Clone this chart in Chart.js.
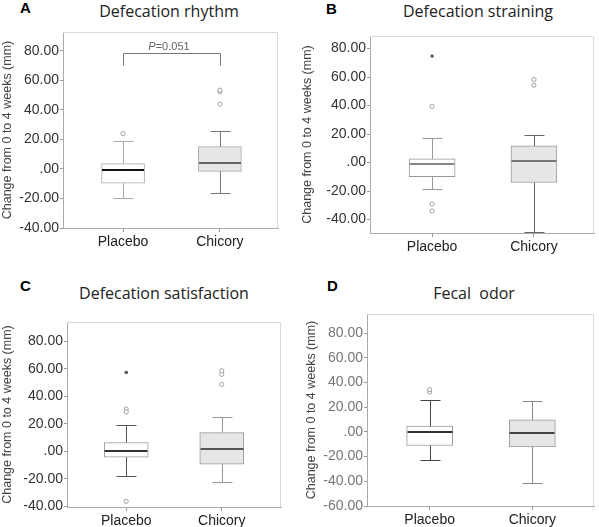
<!DOCTYPE html>
<html>
<head>
<meta charset="utf-8">
<script src="https://cdn.jsdelivr.net/npm/chart.js@4.4.1/dist/chart.umd.min.js"></script>
<style>
  body { margin: 0; background: #fff; }
  #fig { position: relative; width: 599px; height: 527px; overflow: hidden; background: #fff; }
  #fig canvas { position: absolute; }
  .ttl { position: absolute; font-family: "Open Sans", sans-serif; font-size: 16px; color: #222;
         white-space: pre; transform: translateX(-50%); line-height: 1; }
  .lbl { position: absolute; font-family: "Liberation Sans", Arial, sans-serif; font-weight: bold;
         font-size: 15px; color: #000; line-height: 1; }
</style>
</head>
<body>
<div id="fig">
  <div class="lbl" style="left:20px;top:0px">A</div>
  <div class="ttl" style="left:169px;top:3px">Defecation rhythm</div>
  <div class="lbl" style="left:326px;top:1px">B</div>
  <div class="ttl" style="left:478px;top:3px">Defecation straining</div>
  <div class="lbl" style="left:20px;top:278px">C</div>
  <div class="ttl" style="left:164px;top:285px">Defecation satisfaction</div>
  <div class="lbl" style="left:327px;top:278px">D</div>
  <div class="ttl" style="left:474px;top:285px">Fecal  odor</div>

  <canvas id="chartA" width="299" height="262" style="left:0;top:0"></canvas>
  <canvas id="chartB" width="299" height="262" style="left:300px;top:0"></canvas>
  <canvas id="chartC" width="299" height="262" style="left:0;top:265px"></canvas>
  <canvas id="chartD" width="299" height="262" style="left:300px;top:265px"></canvas>
</div>

<script>
//====================================
// DATOS
//====================================
const groups = ["Placebo", "Chicory"];
const yTitle = "Change from 0 to 4 weeks (mm)";
const yTicks = [-40, -20, 0, 20, 40, 60, 80];
const yTicksOdor = [-60, -40, -20, 0, 20, 40, 60, 80];

// A: Defecation rhythm
const rhythmLow = [-20, -16];
const rhythmQ1 = [-9.7, -1.6];
const rhythmMedian = [-1, 4.3];
const rhythmQ3 = [3.6, 15.1];
const rhythmHigh = [19, 26];
const rhythmOutliers = [[24], [43.9, 52.3, 53.4]];
const rhythmExtremes = [[], []];
const rhythmBracket = [78.6, 70];   // linea superior, extremo de las patas
const rhythmPValue = "0.051";

// B: Defecation straining
const strainLow = [-18.7, -49];
const strainQ1 = [-9.8, -14];
const strainMedian = [-0.8, 1.1];
const strainQ3 = [2.6, 11.7];
const strainHigh = [17, 19];
const strainOutliers = [[39.3, -29, -34], [54.3, 58.3]];
const strainExtremes = [[74.7], []];

// C: Defecation satisfaction
const satisLow = [-18.1, -22.5];
const satisQ1 = [-4.4, -9.4];
const satisMedian = [0, 1.9];
const satisQ3 = [6.3, 13.5];
const satisHigh = [19.1, 25.2];
const satisOutliers = [[30.7, 28.6, -36.5], [48.6, 55.9, 58.5]];
const satisExtremes = [[57.3], []];

// D: Fecal odor
const odorLow = [-22.9, -41.2];
const odorQ1 = [-11, -12.1];
const odorMedian = [0, -0.8];
const odorQ3 = [4.6, 9.7];
const odorHigh = [25.9, 25];
const odorOutliers = [[32.3, 34.2], []];
const odorExtremes = [[], []];

//====================================
// PLUGINS
//====================================

// Bigotes, topes y mediana de cada caja
const boxPartsPlugin = {
  id: "boxParts",
  afterDatasetsDraw(chart, args, opts) {
    const { ctx, scales: { x, y } } = chart;
    const line = (x1, y1, x2, y2) => {
      ctx.beginPath();
      ctx.moveTo(x1, y1);
      ctx.lineTo(x2, y2);
      ctx.stroke();
    };
    ctx.save();
    opts.low.forEach((lo, i) => {
      const cx = Math.round(x.getPixelForValue(i + 1)) + 0.5;
      const cap = opts.capWidth / 2;
      const yLo = Math.round(y.getPixelForValue(lo)) + 0.5;
      const yHi = Math.round(y.getPixelForValue(opts.high[i])) + 0.5;
      const yQ1 = y.getPixelForValue(opts.q1[i]);
      const yQ3 = y.getPixelForValue(opts.q3[i]);
      ctx.strokeStyle = opts.whiskerColor[i];
      ctx.lineWidth = 1;
      line(cx, yQ3, cx, yHi);
      line(cx - cap, yHi, cx + cap, yHi);
      line(cx, yQ1, cx, yLo);
      line(cx - cap, yLo, cx + cap, yLo);

      const half = opts.boxWidth / 2;
      const yMed = Math.round(y.getPixelForValue(opts.median[i]));
      ctx.strokeStyle = opts.medianColor[i];
      ctx.lineWidth = 2;
      line(cx - half, yMed, cx + half - 1, yMed);
    });
    ctx.restore();
  }
};

// Marco gris claro alrededor del area del grafico
const framePlugin = {
  id: "frame",
  beforeDatasetsDraw(chart) {
    const { ctx, chartArea: a } = chart;
    ctx.save();
    ctx.strokeStyle = "#d9d9d9";
    ctx.lineWidth = 1;
    ctx.beginPath();
    ctx.moveTo(a.left, a.top + 0.5);
    ctx.lineTo(a.right - 0.5, a.top + 0.5);
    ctx.lineTo(a.right - 0.5, a.bottom);
    ctx.stroke();
    ctx.restore();
  }
};

// Corchete con el valor P (solo panel A)
const bracketPlugin = {
  id: "bracket",
  afterDatasetsDraw(chart, args, opts) {
    if (!opts.levels) return;
    const { ctx, scales: { x, y } } = chart;
    const x1 = Math.round(x.getPixelForValue(1)) + 0.5;
    const x2 = Math.round(x.getPixelForValue(2)) + 0.5;
    const yTop = Math.round(y.getPixelForValue(opts.levels[0])) + 0.5;
    const yLeg = y.getPixelForValue(opts.levels[1]);
    ctx.save();
    ctx.strokeStyle = "#777";
    ctx.lineWidth = 1;
    ctx.beginPath();
    ctx.moveTo(x1, yLeg);
    ctx.lineTo(x1, yTop);
    ctx.lineTo(x2, yTop);
    ctx.lineTo(x2, yLeg);
    ctx.stroke();

    const italic = "italic 11px 'Liberation Sans', Arial, sans-serif";
    const normal = "11px 'Liberation Sans', Arial, sans-serif";
    const rest = "=" + opts.pValue;
    ctx.font = italic;
    const wP = ctx.measureText("P").width;
    ctx.font = normal;
    const wRest = ctx.measureText(rest).width;
    const start = (x1 + x2) / 2 - (wP + wRest) / 2 - 3;
    const ty = yTop - 7;
    ctx.fillStyle = "#666";
    ctx.textBaseline = "middle";
    ctx.textAlign = "left";
    ctx.font = italic;
    ctx.fillText("P", start, ty);
    ctx.font = normal;
    ctx.fillText(rest, start + wP, ty);
    ctx.restore();
  }
};

//====================================
// FUNCION: crear un diagrama de caja
//====================================
function makeBoxChart(id, p) {
  const boxData = groups.map((g, i) => ({ x: i + 1, y: [p.q1[i], p.q3[i]] }));
  const outData = p.outliers.flatMap((arr, i) => arr.map(v => ({ x: i + 1, y: v })));
  const extData = p.extremes.flatMap((arr, i) => arr.map(v => ({ x: i + 1, y: v })));

  return new Chart(document.getElementById(id), {
    type: "bar",
    data: {
      datasets: [
        {
          type: "bar",
          data: boxData,
          backgroundColor: ["#ffffff", "#e6e6e6"],
          borderColor: p.boxBorder,
          borderWidth: 1,
          borderSkipped: false,
          barThickness: p.boxWidth,
        },
        {
          type: "scatter",
          data: outData,
          pointStyle: "circle",
          pointRadius: 2.1,
          pointBorderWidth: 1,
          pointBorderColor: "#a0a0a0",
          pointBackgroundColor: "#ffffff",
        },
        {
          type: "scatter",
          data: extData,
          pointStyle: "star",
          pointRadius: 1.8,
          pointBorderWidth: 1,
          pointBorderColor: "#444",
          pointBackgroundColor: "#444",
        },
      ],
    },
    options: {
      responsive: false,
      animation: false,
      devicePixelRatio: 1,
      events: [],
      layout: { padding: { top: p.padTop, right: p.padRight, left: 0, bottom: 0 } },
      plugins: {
        legend: { display: false },
        tooltip: { enabled: false },
        boxParts: {
          low: p.low, q1: p.q1, median: p.median, q3: p.q3, high: p.high,
          boxWidth: p.boxWidth, capWidth: 20,
          whiskerColor: p.whiskerColor, medianColor: p.medianColor,
        },
        bracket: { levels: p.bracket, pValue: p.pValue },
      },
      scales: {
        x: {
          type: "linear",
          offset: false,
          min: p.xMin,
          max: p.xMax,
          afterBuildTicks: (axis) => { axis.ticks = groups.map((g, i) => ({ value: i + 1 })); },
          afterFit: (axis) => { axis.height = p.xHeight; },
          grid: { display: true, offset: false, drawOnChartArea: false, drawTicks: true, tickLength: 4, color: "#999" },
          border: { display: true, color: "#aaa" },
          ticks: {
            callback: (v) => groups[v - 1],
            color: "#222",
            padding: 2,
            maxRotation: 0,
            font: { family: "'Liberation Sans', Arial, sans-serif", size: 14 },
          },
        },
        y: {
          type: "linear",
          min: p.yMin,
          max: p.yMax,
          afterBuildTicks: (axis) => { axis.ticks = p.ticks.map(v => ({ value: v })); },
          afterFit: (axis) => { axis.width = p.yWidth; },
          grid: { display: true, drawOnChartArea: false, drawTicks: true, tickLength: 3, color: "#999" },
          border: { display: true, color: "#aaa" },
          ticks: {
            callback: (v) => (v === 0 ? ".00" : v.toFixed(2)),
            color: p.tickColor,
            padding: 1,
            font: { family: "'Liberation Sans', Arial, sans-serif", size: 14 },
          },
          title: {
            display: true,
            text: yTitle,
            color: "#444",
            padding: { top: p.titlePad, bottom: 0 },
            font: { family: "'Liberation Sans', Arial, sans-serif", size: 12.5 },
          },
        },
      },
    },
    plugins: [framePlugin, boxPartsPlugin, bracketPlugin],
  });
}

//====================================
// PANELES
//====================================
makeBoxChart("chartA", {
  low: rhythmLow, q1: rhythmQ1, median: rhythmMedian, q3: rhythmQ3, high: rhythmHigh,
  outliers: rhythmOutliers, extremes: rhythmExtremes,
  bracket: rhythmBracket, pValue: rhythmPValue,
  ticks: yTicks, yMin: -40, yMax: 92.8, xMin: 0.38, xMax: 2.6,
  padTop: 32, padRight: 21, yWidth: 63, xHeight: 34, titlePad: 0,
  boxWidth: 43, boxBorder: "#aaa", tickColor: "#333",
  whiskerColor: ["#aaa", "#777"], medianColor: ["#111", "#666"],
});

makeBoxChart("chartB", {
  low: strainLow, q1: strainQ1, median: strainMedian, q3: strainQ3, high: strainHigh,
  outliers: strainOutliers, extremes: strainExtremes,
  ticks: yTicks, yMin: -49.4, yMax: 88.8, xMin: 0.39, xMax: 2.59,
  padTop: 36, padRight: 3, yWidth: 70, xHeight: 29, titlePad: 0,
  boxWidth: 46, boxBorder: "#999", tickColor: "#333",
  whiskerColor: ["#999", "#666"], medianColor: ["#888", "#777"],
});

makeBoxChart("chartC", {
  low: satisLow, q1: satisQ1, median: satisMedian, q3: satisQ3, high: satisHigh,
  outliers: satisOutliers, extremes: satisExtremes,
  ticks: yTicks, yMin: -40.6, yMax: 94, xMin: 0.38, xMax: 2.62,
  padTop: 57, padRight: 18, yWidth: 67, xHeight: 20, titlePad: 0,
  boxWidth: 44, boxBorder: "#999", tickColor: "#333",
  whiskerColor: ["#555", "#999"], medianColor: ["#333", "#555"],
});

makeBoxChart("chartD", {
  low: odorLow, q1: odorQ1, median: odorMedian, q3: odorQ3, high: odorHigh,
  outliers: odorOutliers, extremes: odorExtremes,
  ticks: yTicksOdor, yMin: -60, yMax: 95.4, xMin: 0.39, xMax: 2.6,
  padTop: 49, padRight: 5, yWidth: 67, xHeight: 21, titlePad: 4,
  boxWidth: 46, boxBorder: "#999", tickColor: "#777",
  whiskerColor: ["#444", "#888"], medianColor: ["#333", "#444"],
});
</script>
</body>
</html>
